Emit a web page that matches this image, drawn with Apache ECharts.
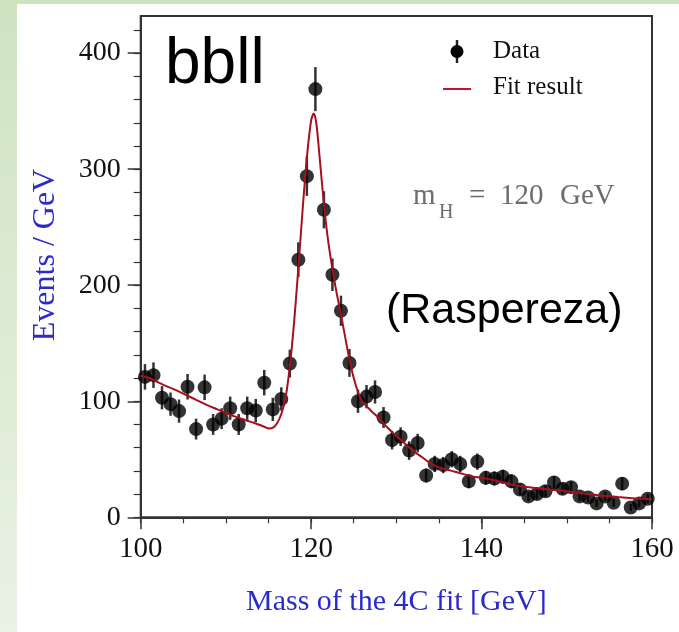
<!DOCTYPE html>
<html>
<head>
<meta charset="utf-8">
<script src="https://cdn.jsdelivr.net/npm/echarts@6/dist/echarts.min.js"></script>
<style>
  html, body { margin: 0; padding: 0; background: #fff; }
  #chart { width: 679px; height: 632px; }
</style>
</head>
<body>
<div id="chart"></div>
<script>
// Reconstructed 4C-fit mass spectrum, 1 GeV bins (bbll channel, m_H = 120 GeV)
const binCenter = [
  100.5, 101.5, 102.5, 103.5, 104.5, 105.5, 106.5, 107.5, 108.5, 109.5,
  110.5, 111.5, 112.5, 113.5, 114.5, 115.5, 116.5, 117.5, 118.5, 119.5,
  120.5, 121.5, 122.5, 123.5, 124.5, 125.5, 126.5, 127.5, 128.5, 129.5,
  130.5, 131.5, 132.5, 133.5, 134.5, 135.5, 136.5, 137.5, 138.5, 139.5,
  140.5, 141.5, 142.5, 143.5, 144.5, 145.5, 146.5, 147.5, 148.5, 149.5,
  150.5, 151.5, 152.5, 153.5, 154.5, 155.5, 156.5, 157.5, 158.5, 159.5
];
const events = [
  121, 122.5, 103, 97.5, 91.5, 112.5, 76, 112, 80, 85,
  94, 80, 94, 92, 116, 93, 102, 132.5, 222, 294,
  369, 265, 209, 178, 133, 100, 104, 108, 86, 66.5,
  69.5, 57.5, 64, 36, 46, 45, 50, 46, 31, 48,
  34, 33.5, 35, 31, 24, 18, 20, 22.5, 30, 24.5,
  26, 18, 17, 12, 18, 12.5, 29, 8.5, 12, 16
];
const eventErr = [
  11, 11, 10, 10, 10, 11, 9, 11, 9, 9,
  10, 9, 10, 10, 11, 10, 10, 12, 15, 17,
  19, 16, 14, 13, 12, 10, 10, 10, 9, 8,
  8, 8, 8, 6, 7, 7, 7, 7, 6, 7,
  6, 6, 6, 6, 5, 4, 4.5, 5, 5.5, 5,
  5, 4, 4, 3.5, 4, 3.5, 5.5, 3, 3.5, 4
];

// Fitted curve (background + resonance)
const fitMass = [
  100, 101, 102, 103, 104, 105, 106, 107, 108, 109,
  110, 111, 112, 113, 114, 114.5, 115, 115.5, 116, 116.5,
  117, 117.5, 118, 118.5, 119, 119.5, 120, 120.3, 120.6, 121,
  121.5, 122, 122.5, 123, 123.5, 124, 124.5, 125, 125.5, 126,
  127, 128, 129, 130, 131, 132, 133, 134, 135, 136,
  137, 138, 139, 140, 142, 144, 146, 148, 150, 152,
  154, 156, 158, 160
];
const fitEvents = [
  122, 120, 116.5, 113, 110, 106.5, 103, 99.5, 96, 93,
  90, 87, 84.5, 82, 79.5, 78, 76.5, 77, 81, 89,
  103, 130, 168, 215, 265, 310, 342, 348, 340, 310,
  270, 238, 214, 193, 175, 155, 136, 120, 108, 100,
  92, 85, 77, 70, 63.5, 57, 52, 46.5, 43, 41,
  39, 37, 35, 34, 31, 27.5, 25.5, 23.8, 22.5, 20.5,
  18.8, 17.4, 16.3, 15.5
];

// Axis ticks and labels
const xMajorTicks = [100, 120, 140, 160];
const xMinorTicks = [100, 105, 110, 115, 120, 125, 130, 135, 140, 145, 150, 155, 160];
const yMajorTicks = [0, 100, 200, 300, 400];
const yMinorTicks = [0, 20, 40, 60, 80, 100, 120, 140, 160, 180, 200, 220, 240, 260, 280, 300, 320, 340, 360, 380, 400, 420];

const SERIF = "'Liberation Serif', 'DejaVu Serif', serif";
const SANS = "'Liberation Sans', Arial, sans-serif";
const AXIS_COLOR = '#333';
const TITLE_BLUE = '#2b2bcc';

const chart = echarts.init(document.getElementById('chart'), null, { renderer: 'canvas' });

const errorBars = binCenter.map((m, i) => [m, events[i] - eventErr[i], events[i] + eventErr[i]]);
const points = binCenter.map((m, i) => [m, events[i]]);
const fitLine = fitMass.map((m, i) => [m, fitEvents[i]]);

const option = {
  animation: false,
  backgroundColor: new echarts.graphic.LinearGradient(0, 0, 0, 1, [
    { offset: 0, color: '#cfe3c1' },
    { offset: 1, color: '#e9f2e5' }
  ]),
  grid: {
    left: 140.7, right: 27, top: 16, bottom: 114.7,
    show: true, borderColor: AXIS_COLOR, borderWidth: 2, backgroundColor: 'transparent'
  },
  xAxis: [
    {
      type: 'value', min: 100, max: 160, interval: 20,
      position: 'bottom',
      name: 'Mass of the 4C fit [GeV]', nameLocation: 'middle', nameGap: 70,
      nameTextStyle: { fontFamily: SERIF, fontSize: 30, color: TITLE_BLUE },
      axisLine: { show: true, lineStyle: { color: AXIS_COLOR, width: 2 } },
      axisTick: { show: true, customValues: xMajorTicks, length: 12, lineStyle: { color: AXIS_COLOR, width: 1.5 } },
      axisLabel: { customValues: xMajorTicks, fontFamily: SERIF, fontSize: 29, color: '#111', margin: 18 },
      splitLine: { show: false }
    },
    {
      type: 'value', min: 100, max: 160, interval: 20,
      position: 'bottom',
      axisLine: { show: false },
      axisTick: { show: true, customValues: xMinorTicks, length: 6, lineStyle: { color: AXIS_COLOR, width: 1.2 } },
      axisLabel: { show: false },
      splitLine: { show: false }
    }
  ],
  yAxis: [
    {
      type: 'value', min: 0, max: 432, interval: 100,
      position: 'left',
      axisLine: { show: true, lineStyle: { color: AXIS_COLOR, width: 2 } },
      axisTick: { show: true, customValues: yMajorTicks, length: 13, lineStyle: { color: AXIS_COLOR, width: 1.5 } },
      axisLabel: { customValues: yMajorTicks, fontFamily: SERIF, fontSize: 28, color: '#111', margin: 20 },
      splitLine: { show: false }
    },
    {
      type: 'value', min: 0, max: 432, interval: 100,
      position: 'left',
      axisLine: { show: false },
      axisTick: { show: true, customValues: yMinorTicks, length: 7, lineStyle: { color: AXIS_COLOR, width: 1.2 } },
      axisLabel: { show: false },
      splitLine: { show: false }
    }
  ],
  graphic: [
    // white panel over the green page border
    { type: 'rect', z: -10, silent: true, shape: { x: 17, y: 4, width: 662, height: 628 }, style: { fill: '#ffffff' } },
    // vertical axis title
    {
      type: 'text', z: 10, x: 46, y: 255, rotation: Math.PI / 2,
      style: { text: 'Events / GeV', font: `32px ${SERIF}`, fill: TITLE_BLUE, align: 'center', verticalAlign: 'middle' }
    },
    // channel label
    { type: 'text', z: 10, left: 165, top: 33, style: { text: 'bbll', font: `64px ${SANS}`, fill: '#000' } },
    { type: 'text', z: 10, left: 386, top: 290, style: { text: '(Raspereza)', font: `43px ${SANS}`, fill: '#000' } },
    // Higgs mass hypothesis
    { type: 'text', z: 10, left: 413, top: 182, style: { text: 'm', font: `29px ${SERIF}`, fill: '#6c6c6c' } },
    { type: 'text', z: 10, left: 439, top: 203, style: { text: 'H', font: `20px ${SERIF}`, fill: '#6c6c6c' } },
    { type: 'text', z: 10, left: 469, top: 182, style: { text: '=', font: `29px ${SERIF}`, fill: '#6c6c6c' } },
    { type: 'text', z: 10, left: 500, top: 182, style: { text: '120', font: `29px ${SERIF}`, fill: '#6c6c6c' } },
    { type: 'text', z: 10, left: 560, top: 182, style: { text: 'GeV', font: `29px ${SERIF}`, fill: '#6c6c6c' } },
    // legend
    { type: 'line', z: 10, shape: { x1: 457, y1: 40, x2: 457, y2: 63 }, style: { stroke: '#222', lineWidth: 2.5 } },
    { type: 'circle', z: 10, shape: { cx: 457, cy: 51.5, r: 6.5 }, style: { fill: '#000' } },
    { type: 'text', z: 10, left: 493, top: 39, style: { text: 'Data', font: `25px ${SERIF}`, fill: '#111' } },
    { type: 'line', z: 10, shape: { x1: 443, y1: 89, x2: 471, y2: 89 }, style: { stroke: '#c0142a', lineWidth: 2 } },
    { type: 'text', z: 10, left: 493, top: 75, style: { text: 'Fit result', font: `25px ${SERIF}`, fill: '#111' } }
  ],
  series: [
    {
      name: 'Data errors',
      type: 'custom',
      xAxisIndex: 0, yAxisIndex: 0,
      z: 3,
      data: errorBars,
      renderItem: function (params, api) {
        const x = api.value(0);
        const lo = Math.max(0, api.value(1));
        const hi = api.value(2);
        const p1 = api.coord([x, lo]);
        const p2 = api.coord([x, hi]);
        return {
          type: 'line',
          shape: { x1: p1[0], y1: p1[1], x2: p2[0], y2: p2[1] },
          style: { stroke: '#333', lineWidth: 2.5 }
        };
      }
    },
    {
      name: 'Data',
      type: 'scatter',
      xAxisIndex: 0, yAxisIndex: 0,
      z: 4,
      symbol: 'circle',
      symbolSize: 14,
      itemStyle: { color: '#000' },
      data: points
    },
    {
      name: 'Fit result',
      type: 'line',
      xAxisIndex: 0, yAxisIndex: 0,
      z: 5,
      showSymbol: false,
      smooth: 0.3,
      lineStyle: { color: '#a8101e', width: 2 },
      data: fitLine
    }
  ]
};

chart.setOption(option);
</script>
</body>
</html>
